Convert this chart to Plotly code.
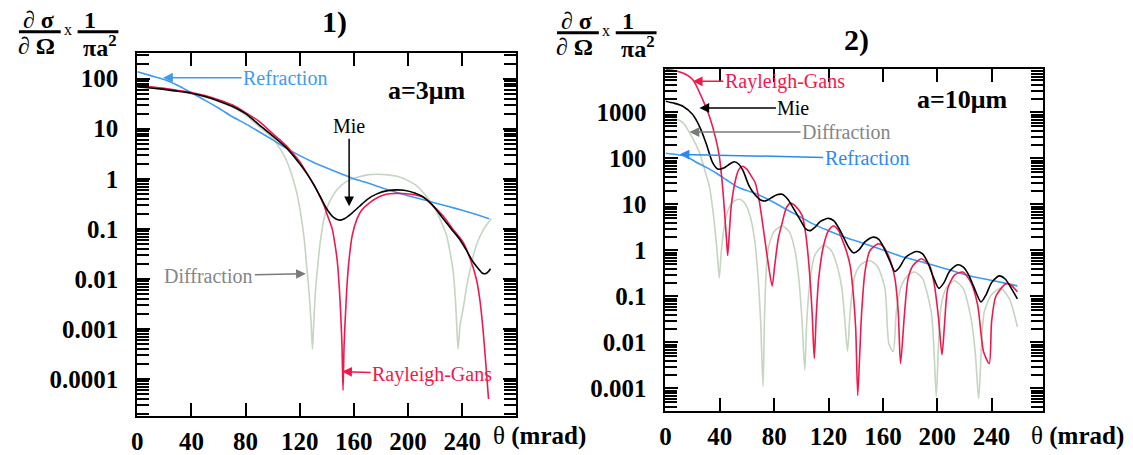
import plotly.graph_objects as go

W, H = 1133, 455

# ---------------- Panel 1 : a = 3 um ----------------
p1_refr_theta = [0, 10, 20, 30, 40, 50, 60, 70, 80, 90, 100, 110, 120, 130, 140, 150, 160, 170, 180, 190, 200, 210, 220, 230, 240, 250, 260]
p1_refr = [138, 115, 96, 73, 52, 37, 26, 17.5, 12.5, 8.7, 6.0, 4.1, 2.9, 2.15, 1.65, 1.28, 1.0, 0.83, 0.67, 0.55, 0.46, 0.39, 0.33, 0.28, 0.235, 0.195, 0.16]

p1_mie_theta = [0, 10, 20, 30, 40, 50, 60, 70, 80, 90, 100, 110, 120, 125, 130, 135, 140, 145, 149, 153, 158, 164, 170, 177, 185, 192, 197, 205, 212, 220, 226, 232, 238, 243, 248, 252, 255, 258, 261]
p1_mie = [68, 65, 61, 56, 51, 44, 36, 28, 20, 12, 7.2, 4.2, 2.0, 1.3, 0.8, 0.45, 0.25, 0.17, 0.15, 0.16, 0.2, 0.28, 0.39, 0.5, 0.58, 0.6, 0.59, 0.52, 0.42, 0.26, 0.16, 0.1, 0.063, 0.038, 0.022, 0.016, 0.013, 0.013, 0.016]

p1_rg_theta = [0, 10, 20, 30, 40, 50, 60, 70, 80, 90, 100, 110, 113.5, 120, 128, 134, 138, 141, 144, 146, 147.8, 149.2, 150.2, 151.2, 152, 152.8, 153.9, 155, 156.3, 158.8, 162.4, 166, 172, 178, 184, 190, 196, 205, 211, 218, 226, 233, 240.7, 246, 250.5, 253, 255.4, 257.5, 259.5]
p1_rg = [72, 69, 64, 58, 53, 46, 38, 30, 21, 14, 8, 4.6, 3.6, 2.2, 0.98, 0.5, 0.29, 0.17, 0.1, 0.05, 0.022, 0.007, 0.0022, 0.0005, 0.00006, 0.0005, 0.0022, 0.008, 0.022, 0.074, 0.16, 0.24, 0.34, 0.43, 0.49, 0.51, 0.51, 0.48, 0.43, 0.3, 0.18, 0.1, 0.054, 0.025, 0.01, 0.004, 0.001, 0.0002, 0.00004]

p1_diff_theta = [0, 10, 20, 30, 40, 50, 60, 70, 80, 90, 100, 105, 110, 115, 118, 121, 123.3, 125, 127, 128.5, 129.4, 130.3, 131.5, 133, 135, 138, 142, 147.8, 155, 162, 170, 177, 185, 192, 200, 206.5, 212, 218.7, 224, 228.5, 231, 233.4, 235, 236, 237, 238.5, 240.7, 244.4, 250.5, 256, 261.5]
p1_diff = [68, 65, 61, 56, 50, 43, 35, 27, 19, 11, 6.5, 4.2, 2.4, 1.0, 0.5, 0.18, 0.063, 0.02, 0.005, 0.0012, 0.0004, 0.0012, 0.005, 0.015, 0.05, 0.16, 0.35, 0.62, 0.9, 1.06, 1.2, 1.23, 1.2, 1.12, 0.92, 0.72, 0.5, 0.29, 0.15, 0.074, 0.035, 0.014, 0.004, 0.0012, 0.0004, 0.0012, 0.0025, 0.01, 0.047, 0.1, 0.16]

# ---------------- Panel 2 : a = 10 um ----------------
p2_refr_theta = [0, 8, 15, 22, 30, 37, 45, 52, 60, 68, 80, 90, 100, 110, 120, 132, 145, 161, 175, 190, 198, 210, 222, 235, 248, 259]
p2_refr = [130, 122, 112, 85, 64, 49, 34, 25, 20, 16.5, 11, 7.5, 5.2, 3.6, 2.7, 1.95, 1.45, 1.0, 0.72, 0.55, 0.47, 0.37, 0.29, 0.24, 0.2, 0.17]

p2_mie_theta = [0, 6, 12.8, 20, 25, 29.8, 34.7, 38.4, 43.3, 47, 50.6, 54, 57, 61.6, 66, 70, 73.7, 78, 82, 85.9, 90, 95, 100, 103, 106.6, 110, 114, 120, 124, 128, 132, 135, 138.4, 142, 147, 153, 157, 161, 165, 168.8, 172, 177, 184.6, 189, 193, 197, 201.2, 205, 209, 215, 219, 223, 227, 232.2, 236, 240, 245.5, 250, 254, 259]
p2_mie = [1760, 1600, 1370, 900, 500, 218, 81, 59, 63, 75, 85, 75, 55, 25, 16, 12.5, 12, 14, 16.3, 16.6, 13, 7.5, 4.2, 3.0, 2.7, 3.2, 4.3, 5, 4.4, 2.9, 1.7, 1.15, 0.89, 1.0, 1.55, 1.95, 1.75, 1.1, 0.6, 0.35, 0.42, 0.72, 0.95, 0.85, 0.55, 0.27, 0.15, 0.2, 0.35, 0.49, 0.44, 0.3, 0.16, 0.076, 0.11, 0.2, 0.28, 0.24, 0.16, 0.089]

p2_rg_theta = [0, 6, 12.8, 20, 27.4, 32.3, 37.1, 39.6, 42, 43.8, 45, 45.8, 47, 48.5, 51.6, 54, 56.6, 60, 63, 66, 69, 72, 75, 78.5, 80.5, 83, 85.9, 89, 92, 96, 100.5, 103, 105.4, 107.9, 109.5, 111, 112.8, 116.4, 120, 123.7, 127.4, 129.8, 133, 135.9, 138.4, 140, 141.5, 143, 144.4, 146.8, 150.5, 156.6, 160, 164, 168.8, 171.3, 173, 176, 178.6, 182.2, 188.3, 194.4, 198, 201, 203.5, 205.3, 207.8, 212.7, 218.8, 224.9, 229.8, 234.1, 238.3, 240, 243.1, 250.5, 254, 259]
p2_rg = [8600, 8200, 7200, 5200, 1900, 830, 263, 112, 25, 5, 1.6, 0.78, 2.5, 10, 35, 58, 68, 58, 42, 30, 12, 3, 0.7, 0.17, 0.5, 1.8, 4, 8.5, 10.7, 9, 5.8, 2.5, 0.56, 0.046, 0.0045, 0.04, 0.25, 1.3, 2.7, 3.4, 2.7, 1.8, 1.0, 0.47, 0.1, 0.02, 0.0007, 0.006, 0.046, 0.34, 1.0, 1.4, 1.25, 0.78, 0.25, 0.046, 0.0035, 0.046, 0.25, 0.47, 0.66, 0.47, 0.17, 0.033, 0.0054, 0.023, 0.15, 0.29, 0.34, 0.2, 0.064, 0.0063, 0.0035, 0.028, 0.1, 0.19, 0.18, 0.126]

p2_diff_theta = [0, 6, 12.8, 18, 25, 29, 32.3, 35, 37, 38.5, 39.6, 41, 43, 46, 50, 54.3, 58, 62, 65.5, 68, 70, 71.8, 73, 74.5, 76.2, 80, 85.9, 91, 95, 98.1, 100.5, 102.5, 104, 106.6, 110, 116.4, 122, 126, 129.8, 132, 134, 136, 139.5, 144, 150.5, 156, 161.5, 164.4, 167.6, 170, 173.6, 178, 183.4, 189, 195.6, 197.5, 199.3, 201, 202.9, 207, 212.7, 219, 224.9, 228, 230.5, 232.5, 234.6, 240, 246.8, 253, 259]
p2_diff = [820, 760, 600, 350, 134, 55, 25, 7, 2, 0.6, 0.25, 0.9, 3, 7.5, 11.5, 13, 11, 6, 1.8, 0.3, 0.03, 0.0011, 0.05, 0.5, 1.3, 2.6, 3.4, 2.6, 1.1, 0.25, 0.03, 0.0025, 0.03, 0.25, 0.8, 1.3, 1.0, 0.5, 0.15, 0.03, 0.0065, 0.05, 0.29, 0.5, 0.6, 0.45, 0.15, 0.0095, 0.0063, 0.05, 0.17, 0.28, 0.34, 0.25, 0.046, 0.008, 0.00066, 0.01, 0.064, 0.16, 0.22, 0.15, 0.033, 0.006, 0.0006, 0.008, 0.046, 0.11, 0.15, 0.09, 0.022]

x_ticks = [0, 40, 80, 120, 160, 200, 240]
p1_y_ticks = [100, 10, 1, 0.1, 0.01, 0.001, 0.0001]
p1_y_text = ["100", "10", "1", "0.1", "0.01", "0.001", "0.0001"]
p2_y_ticks = [1000, 100, 10, 1, 0.1, 0.01, 0.001]
p2_y_text = ["1000", "100", "10", "1", "0.1", "0.01", "0.001"]

C_REFR = "#3d9cf0"
C_MIE = "#000000"
C_RG = "#ee1a4d"
C_DIFF = "#c6d4c2"
C_DIFF_TXT = "#858585"

SERIF = "Liberation Serif"


def px(x):
    return x / W


def py(y):
    return 1 - y / H


fig = go.Figure()

for xa, ya, series in [
    ("x", "y", [(p1_diff_theta, p1_diff, C_DIFF), (p1_refr_theta, p1_refr, C_REFR),
                (p1_rg_theta, p1_rg, C_RG), (p1_mie_theta, p1_mie, C_MIE)]),
    ("x2", "y2", [(p2_diff_theta, p2_diff, C_DIFF), (p2_refr_theta, p2_refr, C_REFR),
                  (p2_rg_theta, p2_rg, C_RG), (p2_mie_theta, p2_mie, C_MIE)]),
]:
    for tx, ty, col in series:
        fig.add_trace(go.Scatter(x=tx, y=ty, mode="lines", xaxis=xa, yaxis=ya,
                                 line=dict(color=col, width=1.6, shape="spline", smoothing=0.7),
                                 hoverinfo="skip", showlegend=False))

tickfont = dict(family=SERIF, size=25, color="black", weight="bold")
common_x = dict(range=[0, 280], tickmode="array", tickvals=x_ticks, ticks="inside", ticklen=13,
                tickwidth=2, tickcolor="black", showline=True, linewidth=2, linecolor="black",
                mirror="ticks", showgrid=False, zeroline=False, tickfont=tickfont,
                ticklabelstandoff=2)
minor = dict(ticks="inside", ticklen=12, tickwidth=1.5, tickcolor="black", dtick="D1", showgrid=False)
common_y = dict(type="log", tickmode="array", ticks="inside", ticklen=13, tickwidth=2,
                tickcolor="black", showline=True, linewidth=2, linecolor="black", mirror="ticks",
                showgrid=False, zeroline=False, tickfont=tickfont, minor=minor, ticklabelstandoff=12)

fig.update_layout(
    width=W, height=H, margin=dict(l=0, r=0, t=0, b=0),
    paper_bgcolor="white", plot_bgcolor="white", showlegend=False,
    xaxis=dict(common_x, domain=[px(132), px(513)], anchor="y"),
    yaxis=dict(common_y, domain=[py(418), py(53)], range=[-4.74, 2.517], anchor="x",
               tickvals=p1_y_ticks, ticktext=p1_y_text),
    xaxis2=dict(common_x, domain=[px(663), px(1043)], anchor="y2", range=[0, 278.2]),
    yaxis2=dict(common_y, domain=[py(413), py(69)], range=[-3.494, 3.952], anchor="x2",
                tickvals=p2_y_ticks, ticktext=p2_y_text),
)

ann = []
shapes = []


def txt(x, y, s, size=24, bold=True, color="black", xanchor="center"):
    ann.append(dict(xref="paper", yref="paper", x=px(x), y=py(y), text=s, showarrow=False,
                    xanchor=xanchor, yanchor="middle",
                    font=dict(family=SERIF, size=size, color=color,
                              weight="bold" if bold else "normal")))


# y-axis fraction labels
for dx, dy in [(0, 0), (541, 1)]:
    txt(33 + dx, 20 + dy, "∂ σ")
    txt(31 + dx, 46 + dy, "∂ Ω")
    txt(62 + dx, 30 + dy, "x", size=16, bold=False)
    txt(84 + dx, 20 + dy, "1")
    txt(94 + dx, 46 + dy, "πa<sup>2</sup>")
    shapes.append(dict(type="line", xref="paper", yref="paper", x0=px(13 + dx), x1=px(55 + dx),
                       y0=py(32 + dy), y1=py(32 + dy), line=dict(color="black", width=3)))
    shapes.append(dict(type="line", xref="paper", yref="paper", x0=px(72 + dx), x1=px(113 + dx),
                       y0=py(32 + dy), y1=py(32 + dy), line=dict(color="black", width=3)))

# panel titles and a= labels
txt(330, 22, "1)", size=30)
txt(855, 40, "2)", size=30)
txt(423, 91, "a=3μm", size=26)
txt(962, 100, "a=10μm", size=26)

# x axis titles
txt(536, 438, "θ <b>(mrad)</b>", size=25, bold=False)
txt(1077, 438, "θ <b>(mrad)</b>", size=25, bold=False)


def arrow(xa, ya, theta, val_log, ax, ay, s, col, arrcol=None):
    ann.append(dict(xref=xa, yref=ya, x=theta, y=val_log, ax=ax, ay=ay, text=s,
                    showarrow=True, arrowhead=2, arrowsize=1.3, arrowwidth=1.5,
                    arrowcolor=arrcol or col, standoff=0,
                    font=dict(family=SERIF, size=20, color=col)))


# panel 1 labels with arrows
arrow("x", "y", 19.1, 2.02, 122, 0, "Refraction", C_REFR)
arrow("x", "y", 156.5, -0.55, 0, -80, "Mie", C_MIE)
arrow("x", "y", 124.5, -1.897, -97, 2, "Diffraction", C_DIFF_TXT, "#7a7a7a")
arrow("x", "y", 151.4, -3.85, 90, 3, "Rayleigh-Gans", C_RG)

# panel 2 labels with arrows
arrow("x2", "y2", 20.1, 3.677, 92, 0, "Rayleigh-Gans", C_RG)
arrow("x2", "y2", 25.0, 3.10, 94, 0, "Mie", C_MIE)
arrow("x2", "y2", 17.7, 2.574, 157, 0, "Diffraction", C_DIFF_TXT, "#7a7a7a")
arrow("x2", "y2", 10.4, 2.09, 187, 4, "Refraction", "#2a8af0")

fig.update_layout(annotations=ann, shapes=shapes)
fig.write_html("out.html", config={"displayModeBar": False},
               post_script="document.body.style.margin='0px';document.body.style.overflow='hidden';")
